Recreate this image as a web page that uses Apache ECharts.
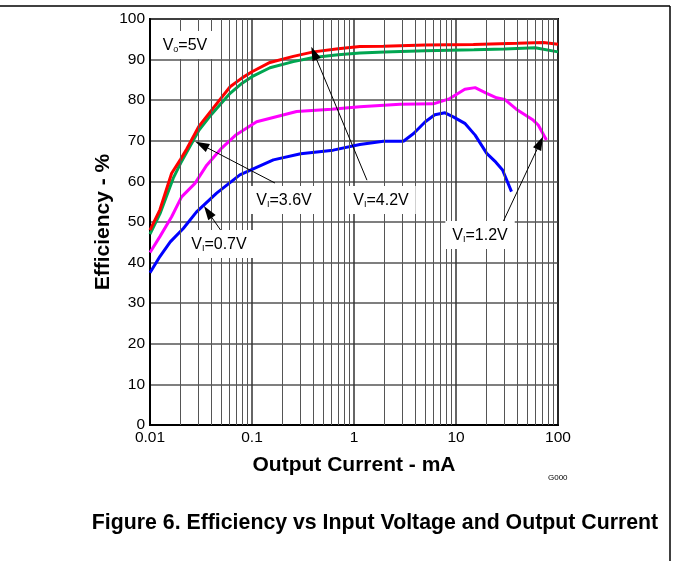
<!DOCTYPE html>
<html>
<head>
<meta charset="utf-8">
<script src="https://cdn.jsdelivr.net/npm/echarts@6/dist/echarts.min.js"></script>
<style>
html,body{margin:0;padding:0;background:#fff;}
#chart{width:673px;height:561px;}
</style>
</head>
<body>
<div id="chart"></div>
<script>
// ---- data ----
const xTicks = [0.01, 0.1, 1, 10, 100];
const yTicks = [0, 10, 20, 30, 40, 50, 60, 70, 80, 90, 100];
const minorGridX = [0.02,0.03,0.04,0.05,0.06,0.07,0.08,0.09,
                    0.2,0.3,0.4,0.5,0.6,0.7,0.8,0.9,
                    2,3,4,5,6,7,8,9,
                    20,30,40,50,60,70,80,90];

const redX   = [0.01,0.0125,0.0163,0.02,0.0229,0.03,0.04,0.061,0.08,0.1,0.15,0.254,0.4,0.7,1.14,1.94,5,14.8,40,71.8,100];
const redY   = [48,53,62,65.5,68,73.5,77.5,83.3,85.5,87,89.3,90.8,91.9,92.7,93.2,93.3,93.6,93.7,94,94.2,93.8];

const greenX = [0.01,0.0125,0.0169,0.02,0.03,0.04,0.061,0.08,0.1,0.15,0.254,0.4,0.7,1.14,2,5,15,30,59.6,100];
const greenY = [47,52,60.8,64.5,72.5,76.5,81.7,84.2,85.8,88,89.5,90.5,91.2,91.6,91.9,92.2,92.4,92.6,92.9,91.9];

const magentaX = [0.01,0.0125,0.0163,0.0204,0.0276,0.036,0.0505,0.07,0.111,0.274,0.6,1.14,2.83,6,8.7,12.2,15.4,20,25,30,39,57,64,77];
const magentaY = [42.5,46.4,51.3,56.2,59.5,64,68.2,71.5,74.7,77.2,77.8,78.4,79,79.1,80.4,82.7,83.1,81.7,80.6,80.2,77.8,75.1,73.9,70.2];

const blueX = [0.01,0.0125,0.0158,0.0212,0.0286,0.045,0.076,0.162,0.3,0.625,1.14,1.94,3.05,3.84,5,6.2,7.8,9.4,12.2,15.4,20,24,28.6,35];
const blueY = [37.5,41.5,45.1,48.4,52.5,57.1,61.6,65.3,66.8,67.7,69.1,69.9,69.9,71.8,74.7,76.4,76.9,75.9,74.3,71.4,66.9,65,62.8,57.5];

function pairs(xs, ys){ return xs.map((x,i)=>[x, ys[i]]); }

const FONT = "'Liberation Sans', Arial, sans-serif";
const chart = echarts.init(document.getElementById('chart'), null, {renderer:'canvas'});

const richStyle = {
  v: {fontSize: 16, fontFamily: FONT, color: '#000'},
  s: {fontSize: 9, fontFamily: FONT, color: '#000', verticalAlign: 'bottom'}
};
function annot(coord, sub, rest){
  return {
    coord: coord, symbol: 'rect', symbolSize: 0,
    label: {show: true, position: 'inside', formatter: '{v|V}{s|' + sub + '}{v|' + rest + '}',
            backgroundColor: '#fff', padding: [7,7,5,7], rich: richStyle}
  };
}
function arrow(from, to){
  return [{coord: from}, {coord: to}];
}

chart.setOption({
  animation: false,
  backgroundColor: '#fff',
  grid: {left: 150, right: 115, top: 19, bottom: 136, show: true, borderColor: '#000', borderWidth: 2, backgroundColor: '#fff'},
  xAxis: {
    type: 'log', logBase: 10, min: 0.01, max: 100, splitNumber: 4,
    name: 'Output Current - mA', nameLocation: 'middle', nameGap: 30, nameMoveOverlap: false,
    nameTextStyle: {fontFamily: FONT, fontSize: 21, fontWeight: 'bold', color: '#000'},
    axisLine: {show: true, lineStyle: {color: '#000', width: 2}},
    axisTick: {show: false},
    axisLabel: {fontFamily: FONT, fontSize: 15.5, color: '#000', margin: 5,
      formatter: function(v){ const t = xTicks.find(t => Math.abs(Math.log10(t) - Math.log10(v)) < 1e-6); return t === undefined ? '' : String(t); }},
    splitLine: {show: true, lineStyle: {color: '#333', width: 1.5}}
  },
  yAxis: {
    type: 'value', min: 0, max: 100, interval: 10,
    name: 'Efficiency - %', nameLocation: 'middle', nameGap: 36, nameMoveOverlap: false,
    nameTextStyle: {fontFamily: FONT, fontSize: 21, fontWeight: 'bold', color: '#000'},
    axisLine: {show: true, lineStyle: {color: '#000', width: 2}},
    axisTick: {show: false},
    axisLabel: {fontFamily: FONT, fontSize: 15.5, color: '#000', margin: 5,
      formatter: function(v){ return yTicks.indexOf(v) >= 0 ? String(v) : ''; }},
    splitLine: {show: true, lineStyle: {color: '#555', width: 1.5}}
  },
  graphic: [
    {type: 'line', shape: {x1: 0, y1: 6, x2: 670, y2: 6}, style: {stroke: '#000', lineWidth: 1.5}},
    {type: 'line', shape: {x1: 670, y1: 6, x2: 670, y2: 561}, style: {stroke: '#000', lineWidth: 1.5}},
    {type: 'text', x: 548, y: 478, style: {text: 'G000', fontFamily: FONT, fontSize: 8, fill: '#000', verticalAlign: 'middle'}},
    {type: 'text', x: 375, y: 523, style: {text: 'Figure 6. Efficiency vs Input Voltage and Output Current', fontFamily: FONT, fontSize: 21.3, fontWeight: 'bold', fill: '#000', align: 'center', verticalAlign: 'middle'}}
  ],
  series: [
    {
      type: 'line', name: 'minor', data: [], silent: true, z: 1,
      markLine: {silent: true, symbol: 'none', label: {show: false}, animation: false,
        lineStyle: {color: '#555', width: 1, type: 'solid'},
        data: minorGridX.map(v => ({xAxis: v}))}
    },
    {type: 'line', name: 'Vi=0.7V', data: pairs(blueX, blueY), showSymbol: false, smooth: false, z: 3,
     lineStyle: {color: '#0000ff', width: 3}},
    {type: 'line', name: 'Vi=1.2V', data: pairs(magentaX, magentaY), showSymbol: false, z: 3,
     lineStyle: {color: '#ff00ff', width: 3}},
    {type: 'line', name: 'Vi=3.6V', data: pairs(greenX, greenY), showSymbol: false, z: 3,
     lineStyle: {color: '#00a651', width: 3}},
    {type: 'line', name: 'Vi=4.2V', data: pairs(redX, redY), showSymbol: false, z: 4,
     lineStyle: {color: '#ff0000', width: 3}},
    {
      type: 'line', name: 'annot', data: [], z: 10, silent: true,
      markLine: {silent: true, symbol: ['none', 'triangle'], symbolSize: [9, 14], label: {show: false}, animation: false,
        lineStyle: {color: '#000', width: 1, type: 'solid'},
        data: [
          arrow([0.168, 59.6], [0.0321, 69]),
          arrow([0.0505, 47.6], [0.037, 52.5]),
          arrow([1.34, 60.3], [0.405, 91.6]),
          arrow([28.9, 50.0], [66.7, 69.5])
        ]},
      markPoint: {silent: true, animation: false,
        data: [
          annot([0.022, 93.6], 'o', '=5V'),
          annot([0.206, 55.4], 'I', '=3.6V'),
          annot([0.0474, 44.6], 'I', '=0.7V'),
          annot([1.84, 55.4], 'I', '=4.2V'),
          annot([17.2, 46.8], 'I', '=1.2V')
        ]}
    }
  ]
});
</script>
</body>
</html>
